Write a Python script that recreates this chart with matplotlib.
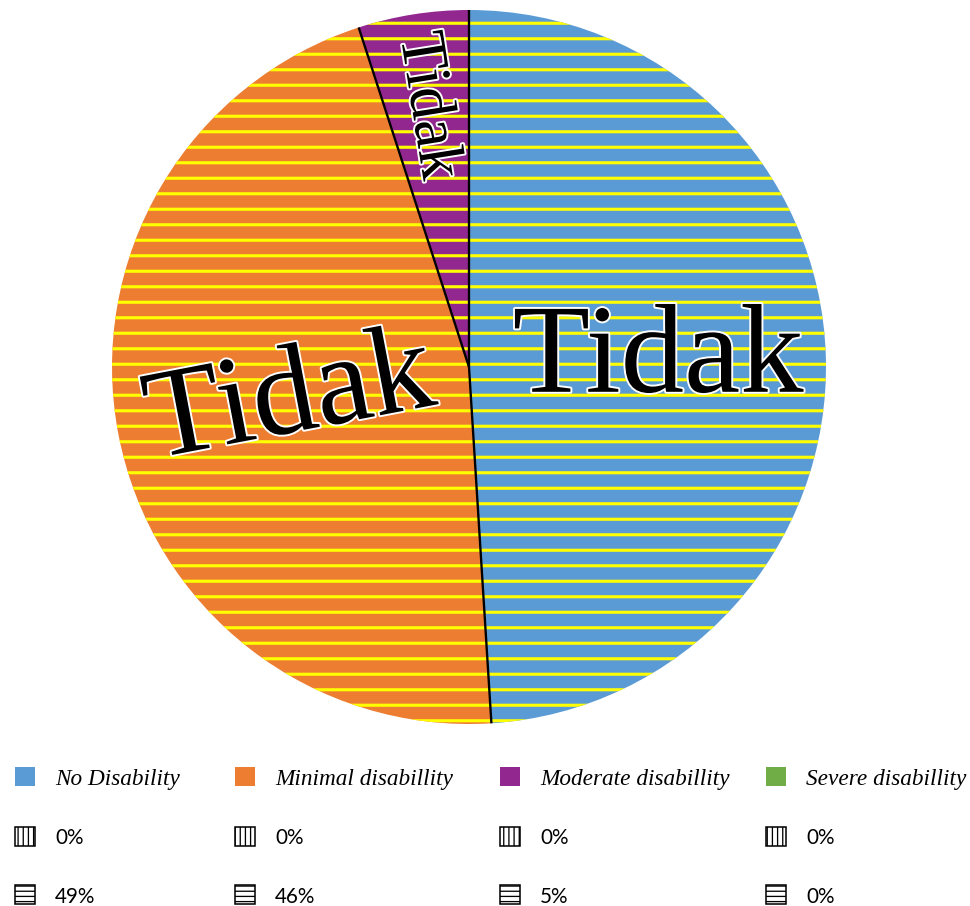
import numpy as np
import matplotlib
matplotlib.use('Agg')
import matplotlib.pyplot as plt
import matplotlib.patheffects as pe
from matplotlib.patches import Patch

categories = ['No Disability', 'Minimal disabillity', 'Moderate disabillity', 'Severe disabillity']
share_vertical = [0, 0, 0, 0]
share_horizontal = [49, 46, 5, 0]
slice_labels = ['Tidak', 'Tidak', 'Tidak']

colors = ['#5B9BD5', '#ED7D31', '#92278F', '#70AD47']
label_radius = [0.53, 0.51, 0.74]
label_size = [98, 98, 50]
legend_x = [15, 235, 500, 766]

DPI = 93
fig = plt.figure(figsize=(970 / DPI, 906 / DPI), dpi=DPI)
ax = fig.add_axes([112 / 970, 182 / 906, 714 / 970, 714 / 906])

# only the non-empty slices are drawn
vals = [v for v in share_horizontal if v > 0]
with plt.rc_context({'hatch.linewidth': 2.4}):
    wedges, _ = ax.pie(vals, colors=colors[:len(vals)], startangle=90, counterclock=False,
                       radius=1, hatch='-',
                       wedgeprops=dict(edgecolor='#FFFF00', linewidth=0))

# black dividing lines between slices
for w in wedges:
    a = np.deg2rad(w.theta2)
    ax.plot([0, np.cos(a)], [0, np.sin(a)], color='black', lw=1.8, solid_capstyle='butt')

for w, txt, r, fs in zip(wedges, slice_labels, label_radius, label_size):
    mid = (w.theta1 + w.theta2) / 2
    a = np.deg2rad(mid)
    rot = mid if -90 <= mid <= 90 else mid - 180
    if abs(rot) < 3:
        rot = 0
    t = ax.text(r * np.cos(a), r * np.sin(a), txt, fontsize=fs, family='Liberation Serif',
                rotation=rot, rotation_mode='anchor', ha='center', va='center', color='black')
    t.set_path_effects([pe.withStroke(linewidth=3, foreground='white')])

ax.set_xlim(-1, 1)
ax.set_ylim(-1, 1)
ax.axis('off')

# one legend column per category: colour key, vertical-hatch share, horizontal-hatch share
for x, c, name, v, h in zip(legend_x, colors, categories, share_vertical, share_horizontal):
    handles = [Patch(facecolor=c, edgecolor='none'),
               Patch(facecolor='white', edgecolor='black', lw=1.2, hatch='|||'),
               Patch(facecolor='white', edgecolor='black', lw=1.2, hatch='---')]
    labels = [name, f'{v}%', f'{h}%']
    leg = fig.legend(handles, labels, loc='upper left', bbox_to_anchor=(x / 970, 1 - 767 / 906),
                     frameon=False, prop={'family': 'Liberation Serif', 'size': 18},
                     handlelength=0.88, handleheight=0.88, handletextpad=0.84,
                     labelspacing=1.6, borderpad=0, borderaxespad=0)
    texts = leg.get_texts()
    texts[0].set_style('italic')
    for t in texts[1:]:
        t.set_fontfamily('Lato')
        t.set_fontsize(16)

fig.savefig('out.png', dpi=DPI)
